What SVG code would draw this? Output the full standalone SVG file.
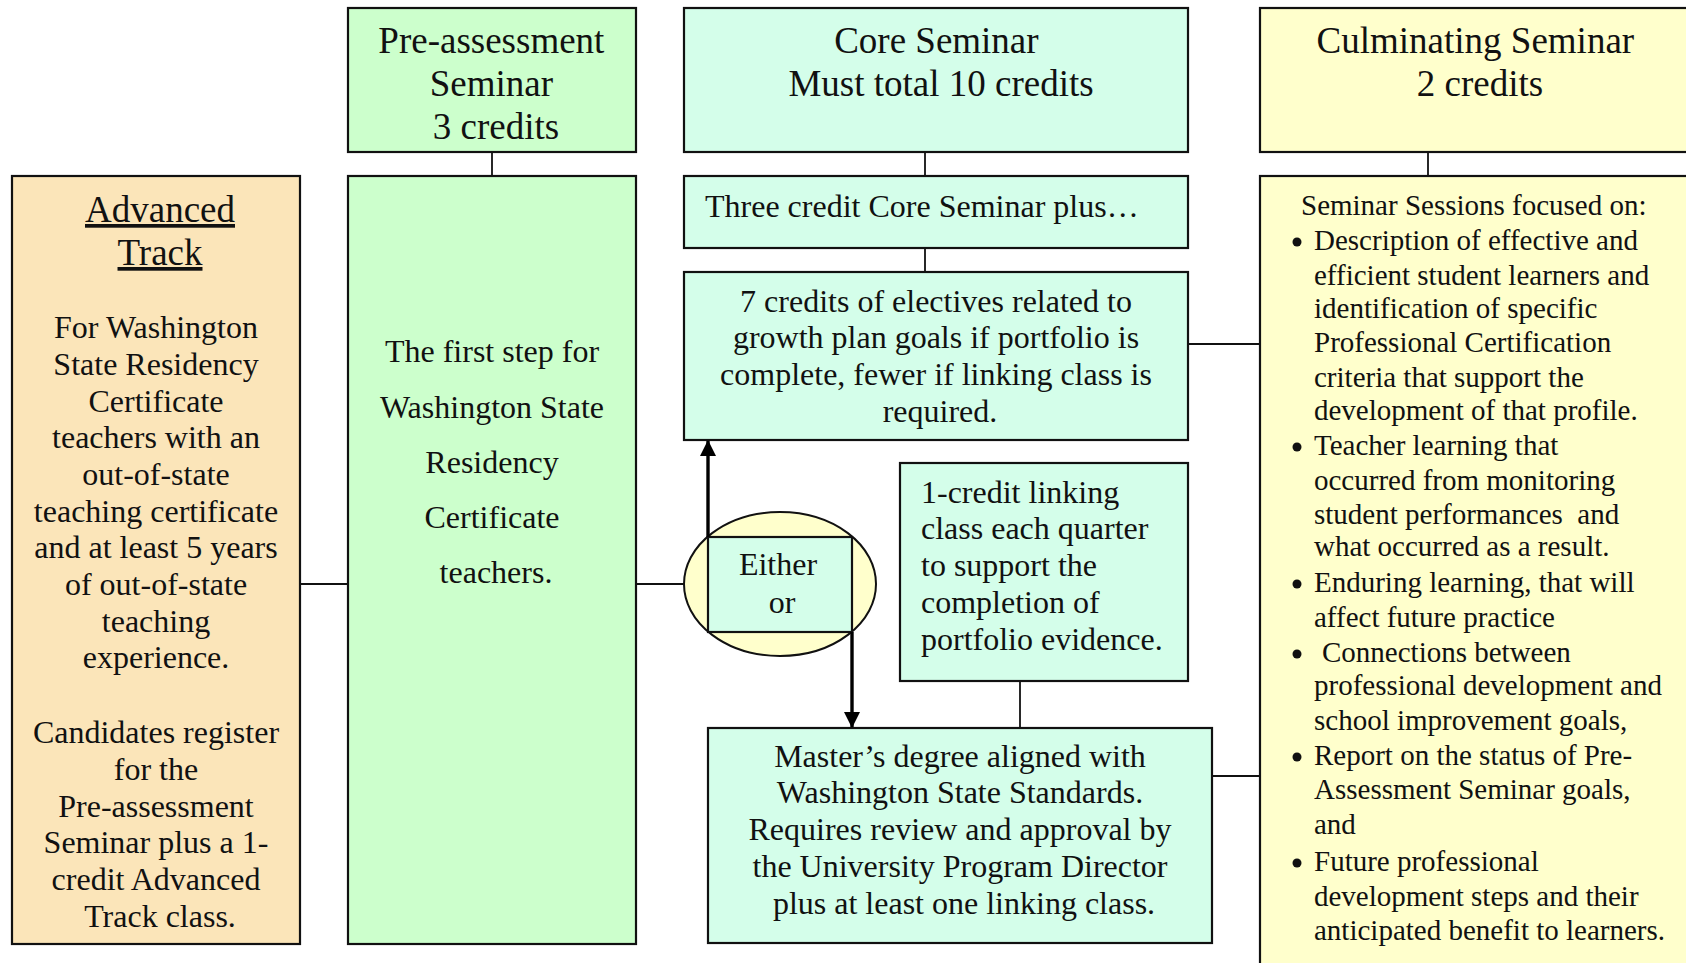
<svg xmlns="http://www.w3.org/2000/svg" width="1686" height="963" viewBox="0 0 1686 963">
<style>
.box{stroke:#111;stroke-width:2.2}
.peach{fill:#FBE5B9}
.green{fill:#CCFFCC}
.mint{fill:#D4FEEA}
.yellow{fill:#FFFFCC}
text{font-family:"Liberation Serif","Times New Roman",serif;fill:#111}
.t{font-size:37px;text-anchor:middle}
.b{font-size:32px;text-anchor:middle}
.bl{font-size:32px}
.s{font-size:29px}
.con{stroke:#111;stroke-width:1.8;fill:none}
.arr{stroke:#000;stroke-width:3.4;fill:none}
</style>
<defs>
<marker id="ah" viewBox="0 0 16 16" refX="15" refY="8" markerWidth="16" markerHeight="16" markerUnits="userSpaceOnUse" orient="auto">
<path d="M0,0 L16,8 L0,16 Z" fill="#000"/>
</marker>
</defs>

<g id="connectors">
<line class="con" x1="492" y1="152" x2="492" y2="176"/>
<line class="con" x1="925" y1="152" x2="925" y2="176"/>
<line class="con" x1="925" y1="248" x2="925" y2="272"/>
<line class="con" x1="1428" y1="152" x2="1428" y2="176"/>
<line class="con" x1="300" y1="584" x2="347" y2="584"/>
<line class="con" x1="637" y1="584" x2="684" y2="584"/>
<line class="con" x1="1188" y1="344" x2="1260" y2="344"/>
<line class="con" x1="1020" y1="681" x2="1020" y2="728"/>
<line class="con" x1="1212" y1="776" x2="1260" y2="776"/>
</g>

<g id="advanced-track">
<rect class="box peach" x="12" y="176" width="288" height="768"/>
<text class="t" x="160" y="222" text-decoration="underline">Advanced</text>
<text class="t" x="160" y="265" text-decoration="underline">Track</text>
<text class="b">
<tspan x="160" y="338">For Washington</tspan>
<tspan x="160" y="375">State Residency</tspan>
<tspan x="160" y="412">Certificate</tspan>
<tspan x="160" y="448">teachers with an</tspan>
<tspan x="160" y="485">out-of-state</tspan>
<tspan x="160" y="522">teaching certificate</tspan>
<tspan x="160" y="558">and at least 5 years</tspan>
<tspan x="160" y="595">of out-of-state</tspan>
<tspan x="160" y="632">teaching</tspan>
<tspan x="160" y="668">experience.</tspan>
<tspan x="160" y="743">Candidates register</tspan>
<tspan x="160" y="780">for the</tspan>
<tspan x="160" y="817">Pre-assessment</tspan>
<tspan x="160" y="853">Seminar plus a 1-</tspan>
<tspan x="160" y="890">credit Advanced</tspan>
<tspan x="160" y="927">Track class.</tspan>
</text>
</g>

<g id="pre-assessment">
<rect class="box green" x="348" y="8" width="288" height="144"/>
<text class="t">
<tspan x="496" y="53">Pre-assessment</tspan>
<tspan x="496" y="96">Seminar</tspan>
<tspan x="496" y="139">3 credits</tspan>
</text>
</g>

<g id="first-step">
<rect class="box green" x="348" y="176" width="288" height="768"/>
<text class="b">
<tspan x="496" y="362">The first step for</tspan>
<tspan x="496" y="418">Washington State</tspan>
<tspan x="496" y="473">Residency</tspan>
<tspan x="496" y="528">Certificate</tspan>
<tspan x="496" y="583">teachers.</tspan>
</text>
</g>

<g id="core-seminar">
<rect class="box mint" x="684" y="8" width="504" height="144"/>
<text class="t">
<tspan x="941" y="53">Core Seminar</tspan>
<tspan x="941" y="96">Must total 10 credits</tspan>
</text>
</g>

<g id="three-credit">
<rect class="box mint" x="684" y="176" width="504" height="72"/>
<text class="bl" x="705" y="217">Three credit Core Seminar plus…</text>
</g>

<g id="electives">
<rect class="box mint" x="684" y="272" width="504" height="168"/>
<text class="b">
<tspan x="940" y="312">7 credits of electives related to</tspan>
<tspan x="940" y="348">growth plan goals if portfolio is</tspan>
<tspan x="940" y="385">complete, fewer if linking class is</tspan>
<tspan x="940" y="422">required.</tspan>
</text>
</g>

<g id="either-or">
<ellipse cx="780" cy="584" rx="96" ry="72" fill="#FFFFCC" stroke="#111" stroke-width="2"/>
<rect x="708" y="537" width="144" height="95" fill="#D4FEEA" stroke="#111" stroke-width="2.2"/>
<text class="b">
<tspan x="782" y="575">Either</tspan>
<tspan x="782" y="613">or</tspan>
</text>
</g>

<g id="linking-class">
<rect class="box mint" x="900" y="463" width="288" height="218"/>
<text class="bl">
<tspan x="921" y="503">1-credit linking</tspan>
<tspan x="921" y="539">class each quarter</tspan>
<tspan x="921" y="576">to support the</tspan>
<tspan x="921" y="613">completion of</tspan>
<tspan x="921" y="650">portfolio evidence.</tspan>
</text>
</g>

<g id="masters">
<rect class="box mint" x="708" y="728" width="504" height="215"/>
<text class="b">
<tspan x="964" y="767">Master’s degree aligned with</tspan>
<tspan x="964" y="803">Washington State Standards.</tspan>
<tspan x="964" y="840">Requires review and approval by</tspan>
<tspan x="964" y="877">the University Program Director</tspan>
<tspan x="964" y="914">plus at least one linking class.</tspan>
</text>
</g>

<g id="culminating-seminar">
<rect class="box yellow" x="1260" y="8" width="440" height="144"/>
<text class="t">
<tspan x="1480" y="53">Culminating Seminar</tspan>
<tspan x="1480" y="96">2 credits</tspan>
</text>
</g>

<g id="seminar-sessions">
<rect class="box yellow" x="1260" y="176" width="440" height="800"/>
<text class="s" x="1301" y="215">Seminar Sessions focused on:</text>
<g fill="#111">
<circle cx="1297" cy="242" r="4.5"/>
<circle cx="1297" cy="447" r="4.5"/>
<circle cx="1297" cy="584" r="4.5"/>
<circle cx="1297" cy="654" r="4.5"/>
<circle cx="1297" cy="757" r="4.5"/>
<circle cx="1297" cy="863" r="4.5"/>
</g>
<text class="s">
<tspan x="1314" y="250">Description of effective and</tspan>
<tspan x="1314" y="285">efficient student learners and</tspan>
<tspan x="1314" y="318">identification of specific</tspan>
<tspan x="1314" y="352">Professional Certification</tspan>
<tspan x="1314" y="387">criteria that support the</tspan>
<tspan x="1314" y="420">development of that profile.</tspan>
<tspan x="1314" y="455">Teacher learning that</tspan>
<tspan x="1314" y="490">occurred from monitoring</tspan>
<tspan x="1314" y="524" xml:space="preserve">student performances  and</tspan>
<tspan x="1314" y="556">what occurred as a result.</tspan>
<tspan x="1314" y="592">Enduring learning, that will</tspan>
<tspan x="1314" y="627">affect future practice</tspan>
<tspan x="1322" y="662">Connections between</tspan>
<tspan x="1314" y="695">professional development and</tspan>
<tspan x="1314" y="730">school improvement goals,</tspan>
<tspan x="1314" y="765">Report on the status of Pre-</tspan>
<tspan x="1314" y="799">Assessment Seminar goals,</tspan>
<tspan x="1314" y="834">and</tspan>
<tspan x="1314" y="871">Future professional</tspan>
<tspan x="1314" y="906">development steps and their</tspan>
<tspan x="1314" y="940">anticipated benefit to learners.</tspan>
</text>
</g>

<g id="arrows">
<line class="arr" x1="708" y1="537" x2="708" y2="441" marker-end="url(#ah)"/>
<line class="arr" x1="852" y1="632" x2="852" y2="727" marker-end="url(#ah)"/>
</g>
</svg>
